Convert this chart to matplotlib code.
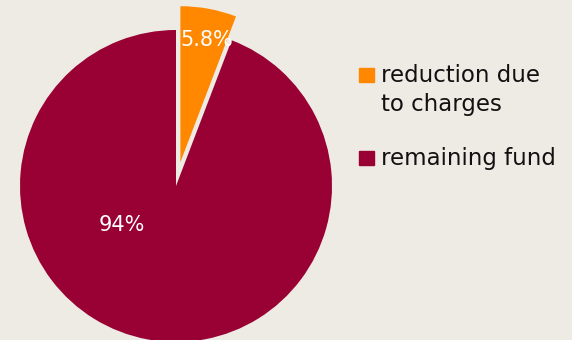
import matplotlib.pyplot as plt
from matplotlib.patches import Rectangle

# pie data
labels = ['reduction due\nto charges', 'remaining fund']
values = [5.8, 94.2]
pct_text = ['5.8%', '94%']
colors = ['#ff8800', '#990033']

fig = plt.figure(figsize=(5.72, 3.4), dpi=100)
fig.patch.set_facecolor('#eeeae4')
ax = fig.add_axes([0, 0, 1, 1])
ax.set_facecolor('#eeeae4')

wedges, _ = ax.pie(values, colors=colors, startangle=90, counterclock=False,
                   explode=[0.155, 0], radius=1, center=(0, 0),
                   wedgeprops=dict(linewidth=0))

# 156 px per unit, pie centre at pixel (176, 186)
ax.set_xlim(-176 / 156, (572 - 176) / 156)
ax.set_ylim(-(340 - 186) / 156, 186 / 156)
ax.set_aspect('auto')
ax.axis('off')

# value labels (placed like the original, not at slice mid-angle)
ax.text((207 - 176) / 156, (186 - 40) / 156, pct_text[0], color='white',
        fontsize=15, ha='center', va='center')
ax.text((122 - 176) / 156, (186 - 225) / 156, pct_text[1], color='white',
        fontsize=15, ha='center', va='center')

# legend drawn by hand so the square sits on the first line
W, H = 572, 340
for lab, col, ytop in zip(labels, colors, [68, 151]):
    fig.patches.append(Rectangle((359 / W, 1 - (ytop + 14) / H), 15 / W, 14 / H,
                                 transform=fig.transFigure, color=col))
    fig.text(381 / W, 1 - (ytop - 4) / H, lab, fontsize=16.5, va='top',
             ha='left', linespacing=1.35, color='#111111')

fig.savefig('out.png', dpi=100, facecolor=fig.get_facecolor())
